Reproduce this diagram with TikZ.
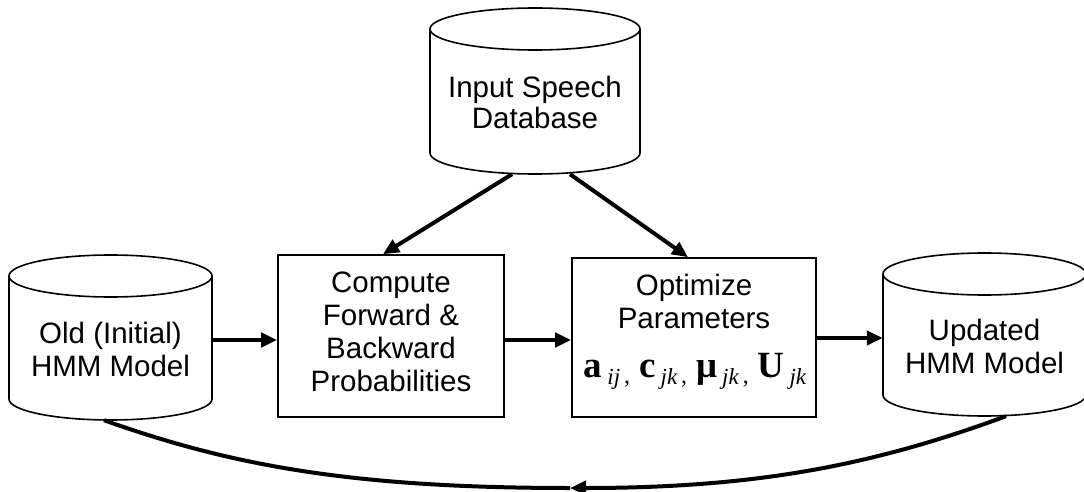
\documentclass[tikz,border=0pt]{standalone}
\usepackage{fontspec}
\setmainfont{Liberation Sans}
\newfontfamily\tnr{Liberation Serif}
\usetikzlibrary{arrows.meta}
\newcommand\bsub[2]{{\tnr\bfseries\fontsize{37}{37}\selectfont #1}\kern5pt\raisebox{-7pt}{\tnr\itshape\fontsize{23}{23}\selectfont #2}}
\newcommand\fcomma{\kern4pt\raisebox{-6pt}{\tnr\fontsize{24}{24}\selectfont ,}\kern9pt}
\newcommand\cylshape[5]{%
  \draw[shapeline] (#1-#4,#2) -- (#1-#4,#3) arc[start angle=180,end angle=360,x radius=#4pt,y radius=#5pt] -- (#1+#4,#2);
  \draw[shapeline] (#1,#2) ellipse[x radius=#4pt,y radius=#5pt];}
\tikzset{
  shapeline/.style={line width=1.6pt},
  txt/.style={inner sep=0pt,align=center,font=\fontsize{29.5}{33}\selectfont},
  area/.style={inner sep=0pt,draw=none,rectangle},
  boxnode/.style={inner sep=0pt,draw,line width=1.6pt,rectangle},
  conn/.style={line width=4pt},
  arr/.style={conn,-{Triangle[length=16pt,width=14pt]}},
}
\begin{document}
\begin{tikzpicture}[x=1pt,y=1pt]
\useasboundingbox (0,0) rectangle (1084,491);
% cylinders
\cylshape{535}{462}{338}{105}{21}
\node[area,minimum width=210pt,minimum height=166pt] (db) at (535,400) {};
\node[txt,font=\fontsize{29.5}{31}\selectfont] (dbt) at (535,388.5) {Input Speech\\Database};
\cylshape{110.5}{215}{92}{101.5}{21}
\node[area,minimum width=203pt,minimum height=165pt] (old) at (110.5,153.5) {};
\node[txt] (oldt) at (110.5,141.5) {Old (Initial)\\HMM Model};
\cylshape{984.5}{217}{96}{101.5}{21}
\node[area,minimum width=203pt,minimum height=163pt] (upd) at (984.5,156.5) {};
\node[txt] (updt) at (984.5,145) {Updated\\HMM Model};
% boxes
\node[boxnode,minimum width=226pt,minimum height=162pt] (comp) at (391,155) {};
\node[txt] (compt) at (391,158.75) {Compute\\Forward \&\\Backward\\Probabilities};
\node[boxnode,minimum width=244pt,minimum height=159pt] (opt) at (694,153.5) {};
\node[txt] (optt) at (694,190) {Optimize\\Parameters};
\node[inner sep=0pt,anchor=base] (optf) at (695,114) {\bsub{a}{ij}\fcomma\bsub{c}{jk}\fcomma\bsub{μ}{jk}\fcomma\bsub{U}{jk}};
% connectors
\draw[arr] ([xshift=-23pt]db.south) -- ([xshift=-8pt]comp.north);
\draw[arr] ([xshift=35pt]db.south) -- ([xshift=-6pt]opt.north);
\draw[arr] (old.east |- 0,151) -- (comp.west |- 0,151);
\draw[arr] (comp.east |- 0,151) -- (opt.west |- 0,151);
\draw[arr] (opt.east |- 0,153) -- (upd.west |- 0,153);
\coordinate (mid) at (570,3);
\draw[arr] ([xshift=21.5pt]upd.south) .. controls (876,27) and (760,3) .. (mid);
\draw[conn] (mid) .. controls (350,3) and (230,26) .. ([xshift=-6.5pt]old.south);
\end{tikzpicture}
\end{document}
